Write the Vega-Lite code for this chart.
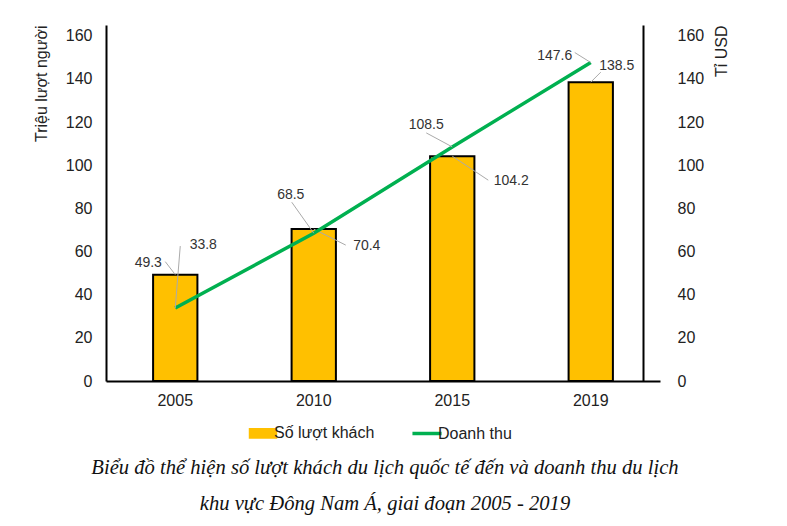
{
  "$schema": "https://vega.github.io/schema/vega-lite/v6.json",
  "width": 554,
  "height": 356,
  "autosize": {"type": "none"},
  "padding": {"left": 106, "top": 25, "right": 127, "bottom": 145},
  "background": "white",
  "config": {
    "view": {"stroke": null},
    "font": "Liberation Sans",
    "legend": {"layout": {"bottom": {"anchor": "middle", "direction": "horizontal"}}},
    "axis": {"domainColor": "#000", "domainWidth": 2, "ticks": false, "grid": false, "labelFont": "Liberation Sans", "labelFontSize": 16, "labelColor": "#222", "titleFont": "Liberation Sans", "titleFontSize": 16, "titleFontWeight": "normal", "titleColor": "#222"}
  },
  "data": {"values": [
    {"year": "2005", "khach": 49.3, "doanhthu": 33.8},
    {"year": "2010", "khach": 70.4, "doanhthu": 68.5},
    {"year": "2015", "khach": 104.2, "doanhthu": 108.5},
    {"year": "2019", "khach": 138.5, "doanhthu": 147.6}
  ]},
  "title": {
    "text": ["Biểu đồ thể hiện số lượt khách du lịch quốc tế đến và doanh thu du lịch", "khu vực Đông Nam Á, giai đoạn 2005 - 2019"],
    "orient": "bottom",
    "anchor": "middle",
    "font": "Liberation Serif",
    "fontStyle": "italic",
    "fontWeight": "normal",
    "fontSize": 20.6,
    "lineHeight": 36,
    "color": "#111",
    "offset": 16,
    "dx": 2
  },
  "encoding": {
    "x": {"field": "year", "type": "ordinal", "title": null,
      "scale": {"paddingInner": 0.68, "paddingOuter": 0.34},
      "axis": {"labelAngle": 0, "labelPadding": 11}}
  },
  "layer": [
    {
      "encoding": {
        "y": {"field": "khach", "type": "quantitative", "scale": {"domain": [0, 165], "nice": false},
          "axis": {"orient": "left", "values": [0, 20, 40, 60, 80, 100, 120, 140, 160], "title": "Triệu lượt người", "titleAnchor": "end", "titlePadding": 16, "labelPadding": 14}}
      },
      "layer": [
        {"mark": {"type": "bar", "stroke": "#000", "strokeWidth": 2},
         "encoding": {"color": {"datum": "Số lượt khách", "type": "nominal",
           "scale": {"domain": ["Số lượt khách", "Doanh thu"], "range": ["#FFC000", "#00B050"]},
           "legend": {"orient": "bottom", "direction": "horizontal", "title": null, "offset": 17,
             "labelFontSize": 16, "labelFont": "Liberation Sans", "labelColor": "#222", "labelOffset": 3, "columnPadding": 30,
             "symbolSize": 700, "symbolStrokeColor": "#000", "symbolStrokeWidth": 2,
             "encode": {"symbols": {"update": {
               "shape": {"signal": "datum.value == 'Doanh thu' ? 'M-1.1,0H1.1' : 'M-1,-0.33H1V0.33H-1Z'"},
               "stroke": {"signal": "datum.value == 'Doanh thu' ? '#00B050' : '#000000'"},
               "fill": {"signal": "datum.value == 'Doanh thu' ? 'transparent' : '#FFC000'"},
               "strokeWidth": {"signal": "datum.value == 'Doanh thu' ? 3.5 : 2"},
               "opacity": {"value": 1}
             }}}}}}},
        {"transform": [{"filter": "datum.year == '2005'"}], "mark": {"type": "rule", "color": "#aaa", "strokeWidth": 1, "xOffset": -10, "yOffset": -13},
         "encoding": {"x2": {"field": "year"}, "y2": {"field": "khach"}}},
        {"transform": [{"filter": "datum.year == '2005'"}], "mark": {"type": "text", "dx": -27, "dy": -12, "fontSize": 14, "color": "#333"}, "encoding": {"text": {"field": "khach", "format": ".1f"}}},
        {"transform": [{"filter": "datum.year == '2010'"}], "mark": {"type": "rule", "color": "#aaa", "strokeWidth": 1, "x2Offset": 32, "y2Offset": 16},
         "encoding": {"x2": {"field": "year"}, "y2": {"field": "khach"}}},
        {"transform": [{"filter": "datum.year == '2010'"}], "mark": {"type": "text", "dx": 53, "dy": 17, "fontSize": 14, "color": "#333"}, "encoding": {"text": {"field": "khach", "format": ".1f"}}},
        {"transform": [{"filter": "datum.year == '2015'"}], "mark": {"type": "rule", "color": "#aaa", "strokeWidth": 1, "x2Offset": 36, "y2Offset": 24},
         "encoding": {"x2": {"field": "year"}, "y2": {"field": "khach"}}},
        {"transform": [{"filter": "datum.year == '2015'"}], "mark": {"type": "text", "dx": 59, "dy": 25, "fontSize": 14, "color": "#333"}, "encoding": {"text": {"field": "khach", "format": ".1f"}}},
        {"transform": [{"filter": "datum.year == '2019'"}], "mark": {"type": "rule", "color": "#aaa", "strokeWidth": 1, "x2Offset": 10, "y2Offset": -10},
         "encoding": {"x2": {"field": "year"}, "y2": {"field": "khach"}}},
        {"transform": [{"filter": "datum.year == '2019'"}], "mark": {"type": "text", "dx": 26, "dy": -16, "fontSize": 14, "color": "#333"}, "encoding": {"text": {"field": "khach", "format": ".1f"}}}
      ]
    },
    {
      "encoding": {
        "y": {"field": "doanhthu", "type": "quantitative", "scale": {"domain": [0, 165], "nice": false},
          "axis": {"orient": "right", "offset": -17, "values": [0, 20, 40, 60, 80, 100, 120, 140, 160], "title": "Tỉ USD", "titleAngle": 270, "titleAnchor": "end", "titlePadding": 26, "labelPadding": 34}}
      },
      "layer": [
        {"mark": {"type": "line", "strokeWidth": 3.5}, "encoding": {"color": {"datum": "Doanh thu", "type": "nominal",
           "legend": {"orient": "bottom", "direction": "horizontal", "title": null, "offset": 17,
             "labelFontSize": 16, "labelFont": "Liberation Sans", "labelColor": "#222", "labelOffset": 3, "columnPadding": 30,
             "symbolSize": 700, "symbolStrokeColor": "#000", "symbolStrokeWidth": 2,
             "encode": {"symbols": {"update": {
               "shape": {"signal": "datum.value == 'Doanh thu' ? 'M-1.1,0H1.1' : 'M-1,-0.33H1V0.33H-1Z'"},
               "stroke": {"signal": "datum.value == 'Doanh thu' ? '#00B050' : '#000000'"},
               "fill": {"signal": "datum.value == 'Doanh thu' ? 'transparent' : '#FFC000'"},
               "strokeWidth": {"signal": "datum.value == 'Doanh thu' ? 3.5 : 2"},
               "opacity": {"value": 1}
             }}}}}}},
        {"transform": [{"filter": "datum.year == '2005'"}], "mark": {"type": "rule", "color": "#aaa", "strokeWidth": 1, "x2Offset": 5, "y2Offset": -62},
         "encoding": {"x2": {"field": "year"}, "y2": {"field": "doanhthu"}}},
        {"transform": [{"filter": "datum.year == '2005'"}], "mark": {"type": "text", "dx": 28, "dy": -63, "fontSize": 14, "color": "#333"}, "encoding": {"text": {"field": "doanhthu", "format": ".1f"}}},
        {"transform": [{"filter": "datum.year == '2010'"}], "mark": {"type": "rule", "color": "#aaa", "strokeWidth": 1, "xOffset": -22, "yOffset": -31},
         "encoding": {"x2": {"field": "year"}, "y2": {"field": "doanhthu"}}},
        {"transform": [{"filter": "datum.year == '2010'"}], "mark": {"type": "text", "dx": -23, "dy": -38, "fontSize": 14, "color": "#333"}, "encoding": {"text": {"field": "doanhthu", "format": ".1f"}}},
        {"transform": [{"filter": "datum.year == '2015'"}], "mark": {"type": "rule", "color": "#aaa", "strokeWidth": 1, "xOffset": -26, "yOffset": -14},
         "encoding": {"x2": {"field": "year"}, "y2": {"field": "doanhthu"}}},
        {"transform": [{"filter": "datum.year == '2015'"}], "mark": {"type": "text", "dx": -26, "dy": -22, "fontSize": 14, "color": "#333"}, "encoding": {"text": {"field": "doanhthu", "format": ".1f"}}},
        {"transform": [{"filter": "datum.year == '2019'"}], "mark": {"type": "rule", "color": "#aaa", "strokeWidth": 1, "xOffset": -16, "yOffset": -10},
         "encoding": {"x2": {"field": "year"}, "y2": {"field": "doanhthu"}}},
        {"transform": [{"filter": "datum.year == '2019'"}], "mark": {"type": "text", "dx": -36, "dy": -7, "fontSize": 14, "color": "#333"}, "encoding": {"text": {"field": "doanhthu", "format": ".1f"}}}
      ]
    }
  ],
  "resolve": {"scale": {"y": "independent"}}
}
